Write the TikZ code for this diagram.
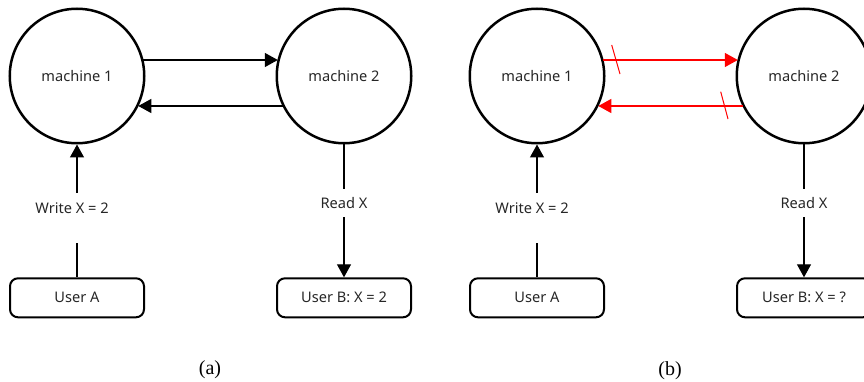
\documentclass[tikz,border=0pt]{standalone}
\usepackage{fontspec}
\newfontfamily\uifont{Noto Sans}
\newfontfamily\capfont{Liberation Serif}
\usetikzlibrary{arrows.meta}

\begin{document}
\begin{tikzpicture}[x=1pt,y=-1pt,
  uitext/.style={font=\uifont\fontsize{14.6}{17}\selectfont, text=black!85},
  machine/.style={circle, draw, line width=2.5pt, minimum size=134.5pt, inner sep=0pt, uitext},
  user/.style={draw, rounded corners=8pt, line width=2pt, minimum width=134pt, minimum height=39pt, inner sep=0pt, uitext},
  lbl/.style={inner sep=0pt, uitext},
  link/.style={line width=1.3pt, -{Triangle[length=13pt,width=14pt]}},
  plainlink/.style={line width=1.3pt},
  lost/.style={link, red},
  cut/.style={red, line width=1pt},
  caption/.style={font=\capfont\fontsize{20}{22}\selectfont}]

\useasboundingbox (0,0) rectangle (864,382);
\clip (0,0) rectangle (864,382);

% ---- (a): replication working ----
\node[machine] (m1a) at (77,76) {machine 1};
\node[machine] (m2a) at (344,76) {machine 2};
\node[user] (uaa) at (77,297.8) {User A};
\node[user] (uba) at (344,297.8) {User B: X = 2};

% message links between the machines, kept horizontal
\path (m1a.center) ++(0,-16) coordinate (y1);
\path (m1a.center) ++(0,30) coordinate (y2);
\path (m1a.east |- y1) ++(-2.3,0) coordinate (s1);
\path (m2a.west |- y1) ++(2.3,0) coordinate (e1);
\path (m2a.west |- y2) ++(7.2,0) coordinate (s2);
\path (m1a.east |- y2) ++(-7.2,0) coordinate (e2);
\draw[link] (s1) -- (e1);
\draw[link] (s2) -- (e2);

\node[lbl] (wa) at (72,208) {Write X = 2};
\coordinate (wa1) at (77,243);
\coordinate (wa2) at (77,193);
\draw[plainlink] (uaa.north) -- (wa1);
\draw[link] (wa2) -- (m1a.south);

\node[lbl] (ra) at (344,203) {Read X};
\coordinate (ra1) at (344,189);
\coordinate (ra2) at (344,217);
\draw[plainlink] (m2a.south) -- (ra1);
\draw[link] (ra2) -- (uba.north);

\node[caption] (capa) at (210,370) {(a)};

% ---- (b): links between machines cut ----
\node[machine] (m1b) at (537,76) {machine 1};
\node[machine] (m2b) at (804,76) {machine 2};
\node[user] (uab) at (537,297.8) {User A};
\node[user] (ubb) at (804,297.8) {User B: X = ?};

\path (m1b.east |- y1) ++(-2.3,0) coordinate (s3);
\path (m2b.west |- y1) ++(2.3,0) coordinate (e3);
\path (m2b.west |- y2) ++(7.2,0) coordinate (s4);
\path (m1b.east |- y2) ++(-7.2,0) coordinate (e4);
\draw[lost] (s3) -- (e3);
\draw[lost] (s4) -- (e4);
\coordinate (c1a) at (611.7,45);
\coordinate (c1b) at (620,74);
\coordinate (c2a) at (720.7,91.7);
\coordinate (c2b) at (728,119);
\draw[cut] (c1a) -- (c1b);
\draw[cut] (c2a) -- (c2b);

\node[lbl] (wb) at (532,208) {Write X = 2};
\coordinate (wb1) at (537,243);
\coordinate (wb2) at (537,193);
\draw[plainlink] (uab.north) -- (wb1);
\draw[link] (wb2) -- (m1b.south);

\node[lbl] (rb) at (804,203) {Read X};
\coordinate (rb1) at (804,189);
\coordinate (rb2) at (804,217);
\draw[plainlink] (m2b.south) -- (rb1);
\draw[link] (rb2) -- (ubb.north);

\node[caption] (capb) at (670,371) {(b)};
\end{tikzpicture}
\end{document}
